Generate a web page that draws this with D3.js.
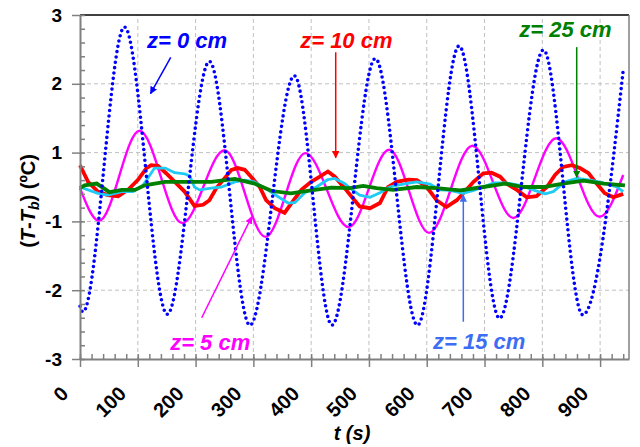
<!DOCTYPE html>
<html>
<head>
<meta charset="utf-8">
<script src="https://cdn.jsdelivr.net/npm/d3@7"></script>
<style>
  body { margin: 0; background: #fff; }
  svg { font-family: Arial, "Liberation Sans", sans-serif; }
</style>
</head>
<body>
<svg id="chart" width="640" height="447"></svg>
<script>
// ---- data: [t (s), T - Tb (ºC)] ----
const z0 = [[0,-2.08],[5,-2.18],[77,2.79],[151,-2.22],[224,2.19],[294,-2.41],[371,1.94],[436,-2.41],
  [511,2.24],[584,-2.41],[656,2.46],[726,-2.29],[802,2.39],[870,-2.23],[940,2.04]];

const z5 = [[0,-0.02],[33,-0.59],[103,0.98],[177,-0.63],[250,0.64],[321,-0.87],[390,0.59],[465,-0.70],
  [535,0.65],[604,-0.80],[679,0.72],[750,-0.54],[824,0.85],[899,-0.52],[940,0.21]];

const z10 = [[0,0.38],[14,0.09],[31,-0.08],[48,-0.14],[66,-0.16],[83,-0.05],[100,0.12],[115,0.33],[123,0.38],
  [135,0.37],[149,0.24],[164,0.09],[181,-0.08],[198,-0.33],[213,-0.31],[224,-0.23],[236,-0.02],[250,0.15],
  [262,0.30],[273,0.33],[285,0.30],[296,0.18],[311,0.0],[322,-0.23],[337,-0.37],[354,-0.45],[366,-0.28],
  [383,-0.05],[400,0.09],[415,0.18],[429,0.27],[441,0.18],[458,-0.02],[475,-0.23],[484,-0.34],[502,-0.37],
  [519,-0.28],[533,0.0],[548,0.09],[568,0.13],[583,0.12],[600,0.0],[617,-0.23],[634,-0.35],[652,-0.23],
  [666,-0.08],[681,0.09],[698,0.24],[712,0.25],[727,0.18],[738,0.06],[756,-0.05],[773,-0.18],[790,-0.16],
  [808,0.0],[822,0.21],[836,0.35],[851,0.38],[865,0.33],[880,0.24],[894,0.06],[908,-0.11],[923,-0.18],[940,-0.12]];

const z15 = [[0,0.0],[14,-0.05],[31,-0.11],[48,-0.14],[72,-0.08],[92,-0.08],[109,0.03],[121,0.21],[129,0.33],
  [147,0.33],[164,0.25],[181,0.23],[190,0.19],[198,0.0],[207,-0.05],[227,-0.02],[245,0.0],[268,0.09],
  [285,0.12],[302,0.09],[320,-0.02],[343,-0.17],[360,-0.28],[372,-0.27],[389,-0.10],[409,0.0],[429,0.13],
  [441,0.15],[458,0.06],[467,-0.02],[484,-0.14],[502,-0.18],[519,-0.10],[536,0.0],[559,0.05],[583,0.09],
  [606,0.05],[623,-0.05],[640,-0.06],[663,-0.11],[681,-0.06],[698,0.0],[715,0.07],[738,0.07],[761,0.03],
  [784,-0.05],[805,-0.12],[819,-0.08],[839,0.09],[860,0.15],[883,0.12],[906,0.07],[929,0.0],[940,-0.08]];

const z25 = [[0,-0.02],[8,0.03],[29,0.06],[51,-0.09],[72,-0.05],[95,-0.05],[112,0.03],[147,0.09],[181,0.09],
  [227,0.09],[268,0.14],[302,0.06],[332,-0.07],[365,-0.11],[400,-0.06],[435,-0.01],[467,-0.02],[490,0.02],
  [513,-0.02],[542,-0.05],[583,0.0],[617,-0.02],[658,-0.06],[698,0.0],[735,0.06],[767,0.0],[802,0.0],
  [836,0.06],[871,0.11],[906,0.06],[943,0.03]];

// axis ticks (Excel major unit 1.2, labels rounded)
const xTicks = [0, 100, 200, 300, 400, 500, 600, 700, 800, 900];
const xMinor = d3.range(0, 951, 20);
const yTicks = [-3, -1.8, -0.6, 0.6, 1.8, 3];
const yMinor = d3.range(0, 26).map(i => -3 + i * 0.24);

// annotation labels, in data units: text at [t, v], arrow from -> to
const labels = ['z= 0 cm', 'z= 10 cm', 'z= 25 cm', 'z= 5 cm', 'z= 15 cm'];
const labelAt = [[116, 2.42], [381, 2.42], [760, 2.62], [156, -2.84], [611, -2.83]];
const arrowFrom = [[157, 2.26], [442.5, 2.35], [859.5, 2.44], [210.6, -2.28], [663.3, -2.35]];
const arrowTo = [[122, 1.63], [442.5, 0.51], [859.5, 0.17], [297, -0.52], [663.3, -0.14]];

// ---- chart ----
const W = 640, H = 447;
const margin = { top: 15, right: 11, bottom: 88, left: 80 };
const svg = d3.select('#chart');

const x = d3.scaleLinear().domain([0, 950]).range([margin.left, W - margin.right]);
const y = d3.scaleLinear().domain([-3, 3]).range([H - margin.bottom, margin.top]);

const colors = {
    z0: '#0000ff',
    z5: '#ff00ff',
    z10: '#ff0000',
    z15: '#1ecbf5',
    z25: '#008000',
    z15label: '#3d6df2'
};
const labelColors = [colors.z0, colors.z10, colors.z25, colors.z5, colors.z15label];

// Grid
const grid = svg.append('g').attr('class', 'grid')
    .attr('stroke', '#c0c0c0')
    .attr('stroke-dasharray', '4,3');

grid.selectAll('line.v')
    .data(xTicks.filter(d => d > 0))
    .join('line')
    .attr('class', 'v')
    .attr('x1', d => x(d)).attr('x2', d => x(d))
    .attr('y1', y(-3)).attr('y2', y(3));

grid.selectAll('line.h')
    .data(yTicks.filter(d => d > -3 && d < 3))
    .join('line')
    .attr('class', 'h')
    .attr('x1', x(0)).attr('x2', x(950))
    .attr('y1', d => y(d)).attr('y2', d => y(d));

// Frame (top black, right grey)
svg.append('line')
    .attr('x1', x(0)).attr('x2', x(950)).attr('y1', y(3)).attr('y2', y(3))
    .attr('stroke', '#000').attr('stroke-width', 1.5);
svg.append('line')
    .attr('x1', x(950)).attr('x2', x(950)).attr('y1', y(3)).attr('y2', y(-3))
    .attr('stroke', '#808080').attr('stroke-width', 1.5);

// Series
const line = d3.line().x(d => x(d[0])).y(d => y(d[1]));

svg.append('path').datum(z5)
    .attr('fill', 'none').attr('stroke', colors.z5).attr('stroke-width', 2.4)
    .attr('d', line.curve(d3.curveMonotoneX));

svg.append('path').datum(z10)
    .attr('fill', 'none').attr('stroke', colors.z10).attr('stroke-width', 3.8)
    .attr('stroke-linejoin', 'miter')
    .attr('d', line.curve(d3.curveLinear));

svg.append('path').datum(z15)
    .attr('fill', 'none').attr('stroke', colors.z15).attr('stroke-width', 2.8)
    .attr('stroke-linejoin', 'round')
    .attr('d', line.curve(d3.curveLinear));

svg.append('path').datum(z25)
    .attr('fill', 'none').attr('stroke', colors.z25).attr('stroke-width', 3.8)
    .attr('stroke-linejoin', 'miter')
    .attr('d', line.curve(d3.curveLinear));

// z = 0 cm drawn as dotted markers
svg.append('path').datum(z0)
    .attr('fill', 'none').attr('stroke', colors.z0).attr('stroke-width', 3.6)
    .attr('stroke-linecap', 'round')
    .attr('stroke-dasharray', '0,5.4')
    .attr('d', line.curve(d3.curveMonotoneX));

// Axes
const yAxis = svg.append('g')
    .attr('transform', `translate(${x(0)},0)`)
    .call(d3.axisLeft(y).tickValues(yTicks).tickFormat(d => Math.round(d))
        .tickSize(8).tickSizeOuter(0).tickPadding(10));
yAxis.append('g')
    .call(d3.axisLeft(y).tickValues(yMinor).tickFormat('').tickSize(-5).tickSizeOuter(0))
    .select('.domain').remove();

const xAxis = svg.append('g')
    .attr('transform', `translate(0,${y(-3)})`)
    .call(d3.axisBottom(x).tickValues(xTicks).tickSize(8).tickSizeOuter(0));
xAxis.append('g')
    .call(d3.axisBottom(x).tickValues(xMinor).tickFormat('').tickSize(-5).tickSizeOuter(0))
    .select('.domain').remove();

[yAxis, xAxis].forEach(ax => {
    ax.attr('font-family', 'Arial, "Liberation Sans", sans-serif').attr('font-size', 19);
    ax.selectAll('.domain').attr('stroke', '#808080').attr('stroke-width', 2);
    ax.selectAll('.tick line').attr('stroke', '#808080').attr('stroke-width', 1.5);
    ax.selectAll('.tick text').attr('font-weight', 'bold').attr('fill', '#000');
});
yAxis.selectAll(':scope > .tick line').attr('x1', 2);
xAxis.selectAll(':scope > .tick line').attr('y1', -2);

xAxis.selectAll(':scope > .tick text')
    .attr('font-size', 20)
    .attr('text-anchor', 'end')
    .attr('x', 0).attr('y', 0).attr('dy', 0)
    .attr('transform', 'translate(-11,36) rotate(-45)');

// Axis titles
svg.append('text')
    .attr('x', 352).attr('y', 440)
    .attr('text-anchor', 'middle')
    .attr('font-size', 20).attr('font-weight', 'bold').attr('font-style', 'italic')
    .text('t (s)');

const yTitle = svg.append('text')
    .attr('transform', 'translate(35,201) rotate(-90)')
    .attr('text-anchor', 'middle')
    .attr('font-size', 20).attr('font-weight', 'bold');
yTitle.append('tspan').text('(');
yTitle.append('tspan').attr('font-style', 'italic').text('T');
yTitle.append('tspan').text('-');
yTitle.append('tspan').attr('font-style', 'italic').text('T');
yTitle.append('tspan').attr('font-style', 'italic').attr('font-size', 14).attr('dy', 4).text('b');
yTitle.append('tspan').attr('dy', -4).text(') (ºC)');

// Annotations
const defs = svg.append('defs');
labelColors.forEach((c, i) => {
    defs.append('marker')
        .attr('id', `arrow${i}`)
        .attr('viewBox', '0 0 10 10')
        .attr('refX', 9).attr('refY', 5)
        .attr('markerWidth', 5).attr('markerHeight', 5)
        .attr('orient', 'auto')
        .append('path')
        .attr('d', 'M0,0 L10,5 L0,10 z')
        .attr('fill', c);
});

const ann = svg.append('g').attr('class', 'annotations');
ann.selectAll('line')
    .data(labels)
    .join('line')
    .attr('x1', (d, i) => x(arrowFrom[i][0])).attr('y1', (d, i) => y(arrowFrom[i][1]))
    .attr('x2', (d, i) => x(arrowTo[i][0])).attr('y2', (d, i) => y(arrowTo[i][1]))
    .attr('stroke', (d, i) => labelColors[i])
    .attr('stroke-width', 1.5)
    .attr('marker-end', (d, i) => `url(#arrow${i})`);

ann.selectAll('text')
    .data(labels)
    .join('text')
    .attr('x', (d, i) => x(labelAt[i][0]))
    .attr('y', (d, i) => y(labelAt[i][1]))
    .attr('fill', (d, i) => labelColors[i])
    .attr('font-size', 22).attr('font-weight', 'bold').attr('font-style', 'italic')
    .text(d => d);
</script>
</body>
</html>
